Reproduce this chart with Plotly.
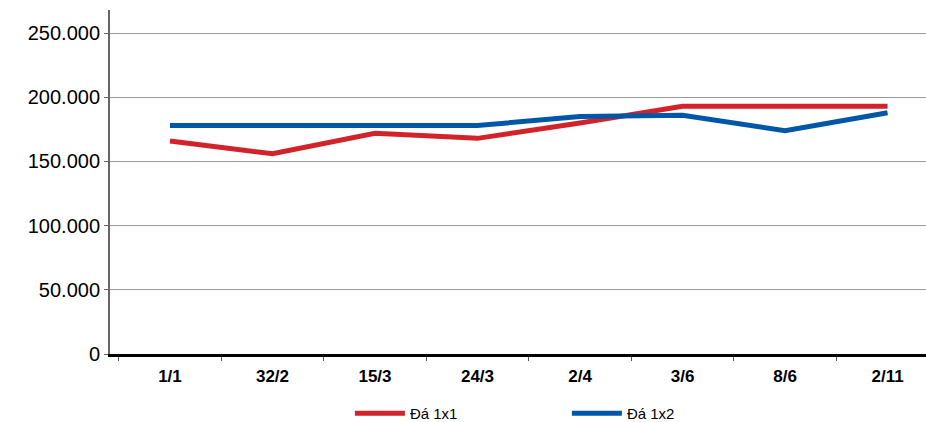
import plotly.graph_objects as go

categories = ["1/1", "32/2", "15/3", "24/3", "2/4", "3/6", "8/6", "2/11"]
da_1x1 = [166000, 156000, 172000, 168000, 180000, 193000, 193000, 193000]
da_1x2 = [178000, 178000, 178000, 178000, 185000, 186000, 174000, 188000]
y_ticks = [0, 50000, 100000, 150000, 200000, 250000]
y_tick_labels = ["0", "50.000", "100.000", "150.000", "200.000", "250.000"]

fig = go.Figure()
fig.add_trace(go.Scatter(x=categories, y=da_1x1, mode="lines", name="Đá 1x1",
                         line=dict(color="#D2232A", width=5)))
fig.add_trace(go.Scatter(x=categories, y=da_1x2, mode="lines", name="Đá 1x2",
                         line=dict(color="#0057A8", width=5)))

fig.update_layout(
    width=926, height=422,
    margin=dict(l=110, r=0, t=10, b=68, autoexpand=False),
    paper_bgcolor="white", plot_bgcolor="white",
    font=dict(family="Liberation Sans, Arial, sans-serif", color="black"),
    showlegend=True,
    legend=dict(orientation="h", x=0.294, xanchor="left", xref="paper",
                y=0.02, yanchor="middle", yref="container",
                font=dict(size=15),
                entrywidth=152, itemwidth=50),
    xaxis=dict(type="category", range=[-0.585, 7.375],
               showline=True, linecolor="black", linewidth=3,
               ticks="outside", tickson="boundaries", ticklen=4, tickcolor="#555",
               ticklabelstandoff=5,
               tickfont=dict(size=17),
               showgrid=False, fixedrange=True),
    yaxis=dict(range=[0, 268000], tickvals=y_ticks, ticktext=y_tick_labels,
               showline=True, linecolor="#666", linewidth=2,
               ticks="outside", ticklen=4, tickcolor="#666",
               showgrid=True, gridcolor="#999", gridwidth=1,
               zeroline=False,
               tickfont=dict(size=20)),
)
fig.update_xaxes(tickprefix="<b>", ticksuffix="</b>")

fig.write_html("out.html")
